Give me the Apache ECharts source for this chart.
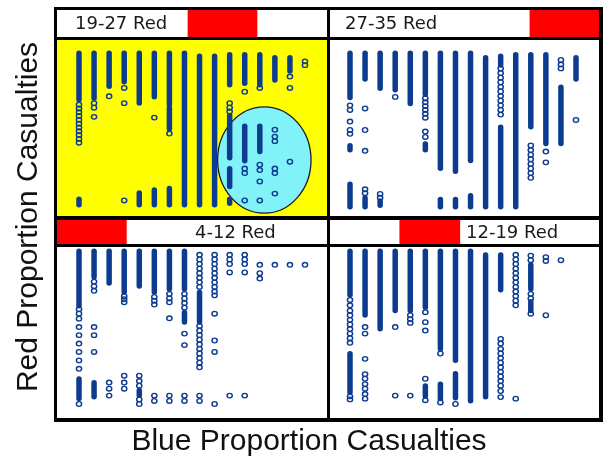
<!DOCTYPE html>
<html>
<head>
<meta charset="utf-8">
<script src="https://cdn.jsdelivr.net/npm/echarts@6/dist/echarts.min.js"></script>
<style>
  html, body { margin: 0; padding: 0; background: #fff; }
  #chart { width: 604px; height: 462px; }
</style>
</head>
<body>
<div id="chart"></div>
<script>
// panel labels and the red-force range shown in each header strip (scale 4..35)
const panelLabels = ["19-27 Red", "27-35 Red", "4-12 Red", "12-19 Red"];
const redRanges = [[19, 27], [27, 35], [4, 12], [12, 19]];
const redScale = [4, 35];

// x = blue casualty bin (0..15), y = red proportion (0..100)
// runs: [bin, low, high] dense stacks of markers; dots: [bin, value] single markers
const runsTL = [
  [0, 69, 100], [0, 0, 4], [1, 70, 100], [2, 78, 100], [3, 81, 100],
  [4, 67, 100], [4, 0, 8], [5, 71, 100], [5, 0, 10],
  [6, 66, 100], [6, 50, 64], [6, 0, 11], [7, 0, 100], [8, 0, 98], [9, 0, 98],
  [10, 79, 99], [10, 31, 59], [10, 12, 24], [10, 1, 4],
  [11, 80, 99], [11, 29, 52], [12, 79, 99], [12, 35, 52],
  [13, 82, 97], [14, 88, 97]
];
const dotsTL = [
  [0, 66], [0, 63.5], [0, 61], [0, 58.5], [0, 56], [0, 53.5], [0, 51], [0, 48.5], [0, 46], [0, 43.5], [0, 41],
  [1, 67], [1, 64], [1, 58], [2, 71.5], [3, 77], [3, 67], [3, 3], [5, 57.5], [6, 47],
  [10, 67], [10, 64], [10, 61.5], [11, 74.5], [11, 24], [11, 21], [11, 3],
  [12, 77], [12, 26.5], [12, 23], [12, 15.5], [12, 3],
  [13, 49.5], [13, 45], [13, 42], [13, 24], [13, 21], [13, 7.5],
  [14, 84.5], [14, 77], [14, 28.5], [15, 94.5], [15, 92]
];
// highlighted region in the 19-27 panel: [bin, value, radius bins, radius value]
const focusTL = [[12.3, 29.6, 3.1, 35]];

const runsTR = [
  [0, 71, 100], [0, 37, 40], [0, 0, 15], [1, 83, 100], [1, 0, 6],
  [2, 77, 100], [2, 1, 4], [3, 76, 100], [4, 67, 100], [5, 73, 100], [5, 37, 41],
  [6, 25, 100], [6, 0, 5], [7, 23, 100], [7, 0, 5], [8, 30, 100], [8, 0, 7.5],
  [9, 0, 97], [10, 92, 98], [10, 0, 52], [11, 0, 99], [12, 52, 99],
  [13, 41, 99], [14, 41, 78], [15, 83, 97]
];
const dotsTR = [
  [0, 66], [0, 63], [0, 55.5], [0, 50], [0, 47.5],
  [1, 64], [1, 50], [1, 36.5], [1, 11.5], [1, 9], [2, 8.5], [2, 6], [3, 71.5],
  [5, 70.5], [5, 68], [5, 65.5], [5, 63], [5, 60.5], [5, 58], [5, 49], [5, 45.5],
  [10, 90], [10, 87], [10, 84], [10, 81], [10, 78], [10, 75], [10, 72], [10, 69], [10, 66], [10, 63], [10, 60],
  [12, 40], [12, 37], [12, 34], [12, 31], [12, 28], [12, 25], [12, 22], [12, 19],
  [13, 36], [13, 29], [14, 95.5], [14, 92.5], [14, 90], [15, 56.5]
];

const runsBL = [
  [0, 64, 100], [0, 3.5, 16.5], [1, 83, 100], [1, 4.5, 14], [2, 79, 100],
  [3, 73, 100], [4, 77, 100], [4, 5.5, 9], [5, 73, 100], [6, 75, 100],
  [7, 75, 100], [7, 53.5, 60], [8, 53.5, 73]
];
const dotsBL = [
  [0, 62], [0, 59], [0, 55.8], [0, 50.3], [0, 45], [0, 39.5], [0, 34], [0, 28.5], [0, 23], [0, 0],
  [1, 80], [1, 77], [1, 74], [1, 50.3], [1, 45], [1, 34],
  [2, 14], [2, 10], [2, 5.5], [3, 70.5], [3, 68.5], [3, 66.5], [3, 18.5], [3, 14], [3, 10],
  [4, 18.5], [4, 15], [4, 12], [4, 3], [4, 0],
  [5, 70], [5, 67.5], [5, 65], [5, 5.5], [5, 2],
  [6, 72], [6, 69], [6, 66.5], [6, 56], [6, 5.5], [6, 2],
  [7, 72], [7, 69], [7, 66], [7, 63], [7, 46], [7, 38.5], [7, 5.5], [7, 2],
  [8, 97.5], [8, 94.5], [8, 91.5], [8, 88.5], [8, 85.5], [8, 82.5], [8, 79.5], [8, 76.5],
  [8, 51], [8, 48], [8, 45], [8, 42], [8, 39], [8, 36], [8, 33], [8, 30], [8, 27], [8, 24], [8, 5.5], [8, 2],
  [9, 97.5], [9, 94.5], [9, 91.5], [9, 88.5], [9, 85.5], [9, 82.5], [9, 79.5], [9, 76.5], [9, 73.5],
  [9, 71], [9, 59], [9, 41.5], [9, 34], [9, 0],
  [10, 97.5], [10, 94.5], [10, 91.5], [10, 86], [10, 5.5],
  [11, 97.5], [11, 94.5], [11, 91.5], [11, 86], [11, 5.5],
  [12, 91], [12, 85.5], [12, 82], [13, 91], [14, 91], [15, 91]
];

const runsBR = [
  [0, 71, 100], [0, 7.5, 33], [1, 58, 100], [2, 49, 100], [3, 61, 100], [4, 61, 100],
  [5, 63, 100], [5, 5, 12], [6, 36, 100], [6, 3.5, 13], [7, 28.5, 100], [7, 4, 20],
  [8, 2, 100], [9, 4.5, 97.5], [10, 74.5, 97.5], [12, 75, 91], [12, 61, 67]
];
const dotsBR = [
  [0, 68], [0, 64.5], [0, 61], [0, 58], [0, 55], [0, 52], [0, 49], [0, 46], [0, 43], [0, 40], [0, 5], [0, 3],
  [1, 50.3], [1, 46], [1, 29.5], [1, 19.5], [1, 16.5], [1, 13], [1, 10], [1, 6.5], [1, 3.5],
  [3, 50.3], [3, 5.5], [4, 58], [4, 55.5], [4, 53], [4, 5.5],
  [5, 60], [5, 53.5], [5, 48], [5, 16.5], [5, 2.5], [6, 33], [6, 1], [7, 0],
  [10, 42.5], [10, 39.5], [10, 36], [10, 33], [10, 30], [10, 27], [10, 24], [10, 21], [10, 18], [10, 15], [10, 12], [10, 8.5], [10, 4.5],
  [11, 97.5], [11, 94.5], [11, 91.5], [11, 88.5], [11, 85.5], [11, 82.5], [11, 79.5], [11, 76.5], [11, 73.5], [11, 70.5], [11, 67.5], [11, 64.5], [11, 3.5],
  [12, 97], [12, 94], [12, 72], [12, 69], [12, 59], [13, 96], [13, 93.5], [13, 58], [14, 94]
];

const BLUE = "#0c3b8f";

// layout of the four panels (pixels)
const panels = [
  { runs: runsTL, dots: dotsTL, head: [57, 10, 270, 27], plot: [57, 40, 270, 176], grid: [79, 53, 226, 152], bg: "#ffff00", labelX: 75 },
  { runs: runsTR, dots: dotsTR, head: [330, 10, 269, 27], plot: [330, 40, 269, 176], grid: [350, 53, 226, 154], bg: "#ffffff", labelX: 345 },
  { runs: runsBL, dots: dotsBL, head: [57, 220, 270, 24], plot: [57, 247, 270, 171], grid: [79, 251, 226, 153], bg: "#ffffff", labelX: 195 },
  { runs: runsBR, dots: dotsBR, head: [330, 220, 269, 24], plot: [330, 247, 269, 171], grid: [350, 251, 226, 153], bg: "#ffffff", labelX: 466 }
];

const grids = [], xAxes = [], yAxes = [], series = [], graphics = [];

graphics.push({ type: "rect", z: 0, shape: { x: 54, y: 7, width: 549, height: 415 }, style: { fill: "#000" } });

panels.forEach((p, i) => {
  graphics.push({ type: "rect", z: 1, shape: { x: p.head[0], y: p.head[1], width: p.head[2], height: p.head[3] }, style: { fill: "#fff" } });
  graphics.push({ type: "rect", z: 1, shape: { x: p.plot[0], y: p.plot[1], width: p.plot[2], height: p.plot[3] }, style: { fill: p.bg } });
  graphics.push({
    type: "text", z: 10, x: p.labelX, y: p.head[1] + p.head[3] / 2 + 1,
    style: { text: panelLabels[i], font: "18px 'DejaVu Sans'", fill: "#1a1a1a",
      textAlign: "left", textVerticalAlign: "middle", align: "left", verticalAlign: "middle" }
  });

  // header strip grid (red range)
  const hi = grids.length;
  grids.push({ left: p.head[0], top: p.head[1], width: p.head[2], height: p.head[3] });
  xAxes.push({ gridIndex: hi, type: "value", min: redScale[0], max: redScale[1], show: false });
  yAxes.push({ gridIndex: hi, type: "value", min: 0, max: 1, show: false });
  series.push({
    type: "custom", xAxisIndex: hi, yAxisIndex: hi, silent: true, z: 3,
    data: [redRanges[i]],
    renderItem: (params, api) => {
      const a = api.coord([api.value(0), 0]);
      const b = api.coord([api.value(1), 0]);
      const cs = params.coordSys;
      return { type: "rect", shape: { x: a[0], y: cs.y, width: b[0] - a[0], height: cs.height }, style: { fill: "#ff0000" } };
    }
  });

  // plot grid
  const gi = grids.length;
  grids.push({ left: p.grid[0], top: p.grid[1], width: p.grid[2], height: p.grid[3] });
  xAxes.push({ gridIndex: gi, type: "value", min: 0, max: 15, show: false });
  yAxes.push({ gridIndex: gi, type: "value", min: 0, max: 100, show: false });

  if (i === 0) {
    series.push({
      type: "custom", xAxisIndex: gi, yAxisIndex: gi, silent: true, z: 2,
      data: focusTL,
      renderItem: (params, api) => {
        const c = api.coord([api.value(0), api.value(1)]);
        const e = api.coord([api.value(0) + api.value(2), api.value(1) + api.value(3)]);
        return { type: "ellipse", shape: { cx: c[0], cy: c[1], rx: e[0] - c[0], ry: c[1] - e[1] },
          style: { fill: "#80f2f8", stroke: "#1a1a2a", lineWidth: 1.3 } };
      }
    });
  }

  series.push({
    type: "custom", xAxisIndex: gi, yAxisIndex: gi, silent: true, z: 4,
    data: p.runs,
    renderItem: (params, api) => {
      const top = api.coord([api.value(0), api.value(2)]);
      const bot = api.coord([api.value(0), api.value(1)]);
      return { type: "rect", shape: { x: top[0] - 2.75, y: top[1] - 2.5, width: 5.5, height: bot[1] - top[1] + 5, r: 2.75 },
        style: { fill: BLUE } };
    }
  });
  series.push({
    type: "scatter", xAxisIndex: gi, yAxisIndex: gi, silent: true, z: 5,
    data: p.dots, symbol: "circle", symbolSize: [5.2, 4.6],
    itemStyle: { color: "rgba(0,0,0,0)", borderColor: BLUE, borderWidth: 1.4, opacity: 1 }
  });
});

graphics.push({
  type: "text", z: 10, x: 309, y: 442,
  style: { text: "Blue Proportion Casualties", font: "30px 'Liberation Sans'", fill: "#111",
    textAlign: "center", textVerticalAlign: "middle", align: "center", verticalAlign: "middle" }
});
graphics.push({
  type: "text", z: 10, x: 29, y: 217, rotation: Math.PI / 2,
  style: { text: "Red Proportion Casualties", font: "30px 'Liberation Sans'", fill: "#111",
    textAlign: "center", textVerticalAlign: "middle", align: "center", verticalAlign: "middle" }
});

const chart = echarts.init(document.getElementById("chart"), null, { renderer: "canvas" });
chart.setOption({
  animation: false,
  backgroundColor: "#fff",
  grid: grids,
  xAxis: xAxes,
  yAxis: yAxes,
  graphic: { elements: graphics },
  series: series
});
</script>
</body>
</html>
